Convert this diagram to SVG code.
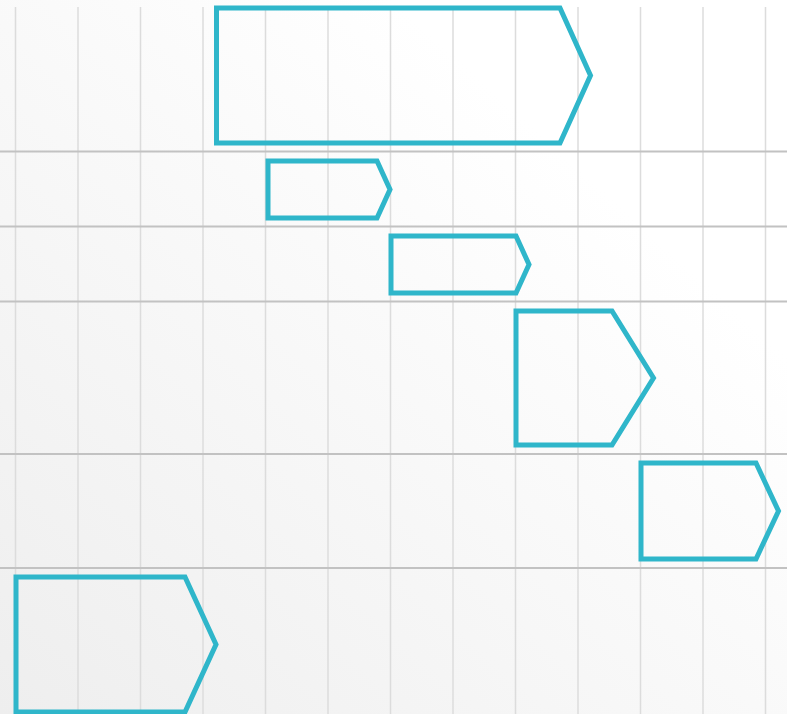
<svg xmlns="http://www.w3.org/2000/svg" width="787" height="714" viewBox="0 0 787 714">
<defs>
<linearGradient id="bg" x1="0" y1="1" x2="1" y2="0">
<stop offset="0" stop-color="#eeeeee"/>
<stop offset="0.75" stop-color="#ffffff"/>
<stop offset="1" stop-color="#ffffff"/>
</linearGradient>
</defs>
<style>
.v{stroke:#dcdcdc;stroke-width:1.5}
.h{stroke:#c2c2c2;stroke-width:2}
.bar{fill:none;stroke:#2fb6ca;stroke-width:5;stroke-linejoin:miter}
</style>
<rect width="787" height="714" fill="url(#bg)"/>
<g id="grid">
<line class="v" x1="15.5" y1="7" x2="15.5" y2="714"/>
<line class="v" x1="78" y1="7" x2="78" y2="714"/>
<line class="v" x1="140.5" y1="7" x2="140.5" y2="714"/>
<line class="v" x1="203" y1="7" x2="203" y2="714"/>
<line class="v" x1="265.5" y1="7" x2="265.5" y2="714"/>
<line class="v" x1="328" y1="7" x2="328" y2="714"/>
<line class="v" x1="390.5" y1="7" x2="390.5" y2="714"/>
<line class="v" x1="453" y1="7" x2="453" y2="714"/>
<line class="v" x1="515.5" y1="7" x2="515.5" y2="714"/>
<line class="v" x1="578" y1="7" x2="578" y2="714"/>
<line class="v" x1="640.5" y1="7" x2="640.5" y2="714"/>
<line class="v" x1="703" y1="7" x2="703" y2="714"/>
<line class="v" x1="765.5" y1="7" x2="765.5" y2="714"/>
<line class="h" x1="0" y1="151.5" x2="787" y2="151.5"/>
<line class="h" x1="0" y1="226.5" x2="787" y2="226.5"/>
<line class="h" x1="0" y1="301.5" x2="787" y2="301.5"/>
<line class="h" x1="0" y1="454" x2="787" y2="454"/>
<line class="h" x1="0" y1="568" x2="787" y2="568"/>
</g>
<g id="task1"><polygon class="bar" points="216.5,8 560,8 590.5,75.5 560,143 216.5,143"/></g>
<g id="task2"><polygon class="bar" points="268,161 377,161 390,189.5 377,218 268,218"/></g>
<g id="task3"><polygon class="bar" points="391,236 516,236 529,264.5 516,293 391,293"/></g>
<g id="task4"><polygon class="bar" points="516,311 612,311 653.5,378 612,445 516,445"/></g>
<g id="task5"><polygon class="bar" points="641,463 756,463 778.5,511 756,559 641,559"/></g>
<g id="task6"><polygon class="bar" points="16,577 185,577 216,644.5 185,712 16,712"/></g>
</svg>
